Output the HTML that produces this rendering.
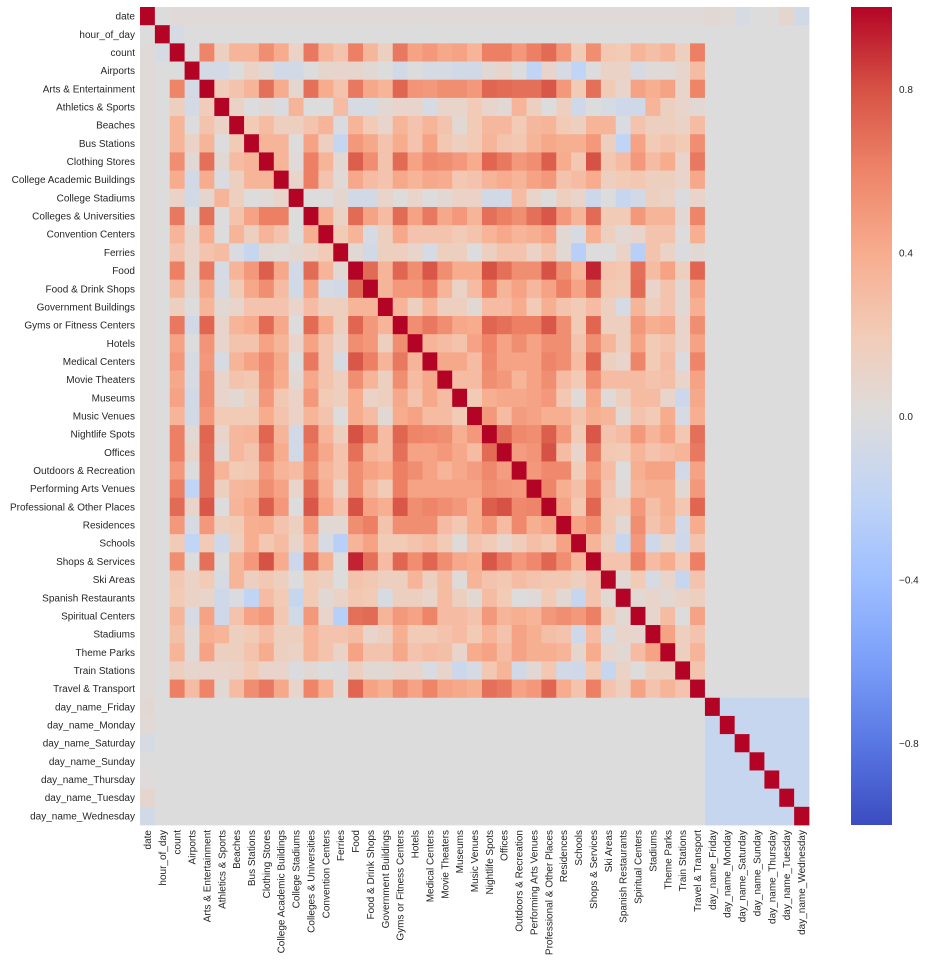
<!DOCTYPE html>
<html><head><meta charset="utf-8"><style>
html,body{margin:0;padding:0;background:#fff;width:925px;height:962px;overflow:hidden}
svg text{font-family:"Liberation Sans",sans-serif;font-size:10px;fill:#262626}
</style></head><body>
<svg id="chart" width="925" height="962" xmlns="http://www.w3.org/2000/svg"></svg>
<script>
const labels = ["date","hour_of_day","count","Airports","Arts & Entertainment","Athletics & Sports","Beaches","Bus Stations","Clothing Stores","College Academic Buildings","College Stadiums","Colleges & Universities","Convention Centers","Ferries","Food","Food & Drink Shops","Government Buildings","Gyms or Fitness Centers","Hotels","Medical Centers","Movie Theaters","Museums","Music Venues","Nightlife Spots","Offices","Outdoors & Recreation","Performing Arts Venues","Professional & Other Places","Residences","Schools","Shops & Services","Ski Areas","Spanish Restaurants","Spiritual Centers","Stadiums","Theme Parks","Train Stations","Travel & Transport","day_name_Friday","day_name_Monday","day_name_Saturday","day_name_Sunday","day_name_Thursday","day_name_Tuesday","day_name_Wednesday"];
// upper triangle (j>i) of block count..Travel & Transport
const catUpper = [
[0,0.6,0.15,0.35,0.35,0.55,0.4,0.12,0.65,0.35,0.25,0.62,0.33,0.15,0.65,0.45,0.5,0.42,0.45,0.35,0.62,0.62,0.5,0.62,0.7,0.5,0.2,0.55,0.22,0.2,0.35,0.28,0.35,0.15,0.62],
[-0.07,-0.07,0,0.12,0.05,-0.08,-0.08,0,0.08,0.1,0.08,0.05,0,-0.08,0,-0.05,-0.05,-0.08,-0.08,0.05,0.1,0,-0.2,0.1,-0.05,-0.2,0,0.12,0.12,-0.05,0.02,0.02,0.08,0.3],
[0.18,0.25,0.35,0.68,0.4,0.07,0.68,0.4,0.25,0.65,0.42,0.35,0.72,0.52,0.5,0.55,0.55,0.5,0.72,0.7,0.68,0.68,0.78,0.5,0.2,0.68,0.2,0.1,0.45,0.38,0.45,0.1,0.6],
[0.12,0,0.05,-0.03,0.35,0,0,0.3,-0.05,-0.05,0.05,0.1,0.1,-0.05,0.1,0.1,0.2,0.1,0.05,0.35,0.15,0,0.15,-0.1,0,-0.05,-0.1,-0.1,0.35,0.15,0.1,0.05],
[0.2,0.3,0.15,0.15,0.25,0.35,-0.03,0.35,0.2,0.1,0.35,0.25,0.35,0.25,0.05,0.2,0.32,0.32,0.2,0.32,0.35,0.2,0.15,0.35,0.35,-0.03,0.25,0.15,0.15,0.12,0.3],
[0.35,0.35,0,0.45,0.15,-0.15,0.5,0.42,0.25,0.4,0.25,0.45,0.22,0.15,0.2,0.35,0.25,0.22,0.35,0.42,0.38,0.38,0.5,0.15,-0.2,0.45,0.2,0.25,0.2,0.55],
[0.35,0.02,0.62,0.35,0.05,0.75,0.55,0.25,0.7,0.45,0.58,0.55,0.5,0.4,0.72,0.65,0.5,0.55,0.75,0.4,0.22,0.8,0.22,0.3,0.5,0.3,0.4,0.1,0.65],
[0.1,0.62,0.25,0.03,0.42,0.3,0.25,0.42,0.35,0.42,0.4,0.22,0.25,0.35,0.4,0.35,0.45,0.5,0.25,0.3,0.4,0.15,0.2,0.22,0.15,0.15,0.1,0.42],
[0,0,0.07,-0.08,-0.08,0.1,0,0.1,0,0.05,0.12,0.12,-0.08,-0.08,0.3,0.1,0,0.15,0.1,-0.12,0,-0.15,-0.08,0.15,0.12,-0.02,0.1],
[0.38,0.12,0.7,0.45,0.3,0.7,0.45,0.65,0.42,0.5,0.35,0.68,0.62,0.55,0.68,0.78,0.5,0.35,0.7,0.2,0.2,0.5,0.35,0.35,0.05,0.6],
[0.2,0.35,-0.05,0.15,0.42,0.25,0.25,0.25,0.2,0.25,0.35,0.42,0.35,0.38,0.45,0.05,-0.05,0.38,0.15,0.05,0.1,0.25,0.25,0,0.38],
[0.05,-0.08,0.15,0.15,0.1,-0.05,0.15,0.15,0,0.15,0.25,0.25,0.12,0.25,0.05,-0.25,0,0,0.12,-0.25,0.25,0.12,-0.02,0.05],
[0.7,0.35,0.72,0.55,0.78,0.55,0.4,0.4,0.8,0.68,0.55,0.55,0.8,0.55,0.35,0.92,0.25,0.22,0.68,0.3,0.45,0.15,0.72],
[0.35,0.5,0.5,0.62,0.35,0.12,0.3,0.62,0.35,0.45,0.32,0.45,0.62,0.45,0.68,0.22,0.2,0.7,0.1,0.25,0.05,0.45],
[0.35,0.15,0.35,0.15,0.15,0.05,0.3,0.3,0.4,0.2,0.38,0.25,0.2,0.3,0.15,-0.05,0.35,0.15,0.25,0.05,0.38],
[0.55,0.65,0.55,0.42,0.4,0.72,0.68,0.62,0.62,0.78,0.55,0.2,0.72,0.15,0.15,0.5,0.38,0.42,0.1,0.55],
[0.35,0.3,0.25,0.45,0.6,0.45,0.55,0.45,0.55,0.55,0.25,0.55,0.35,0.15,0.45,0.2,0.25,0.1,0.45],
[0.42,0.42,0.3,0.58,0.45,0.45,0.45,0.6,0.55,0.3,0.72,0.15,0.1,0.6,0.2,0.3,-0.03,0.6],
[0.3,0.3,0.55,0.5,0.35,0.45,0.55,0.3,0.2,0.55,0.3,0.3,0.3,0.25,0.28,0.1,0.45],
[0.2,0.38,0.42,0.42,0.45,0.5,0.22,0.02,0.42,0.02,0.15,0.3,0.3,0.1,-0.12,0.42],
[0.5,0.3,0.48,0.45,0.38,0.38,0.25,0.38,0.35,0.05,0.25,0.2,0.4,-0.05,0.38],
[0.7,0.58,0.55,0.75,0.5,0.2,0.78,0.25,0.3,0.5,0.35,0.45,0.22,0.68],
[0.48,0.52,0.8,0.3,0.1,0.65,0.22,0.2,0.35,0.25,0.3,0.35,0.65],
[0.5,0.58,0.58,0.18,0.5,0.3,0,0.38,0.45,0.45,-0.08,0.45],
[0.6,0.38,0.28,0.58,0.25,0.02,0.35,0.38,0.38,0.05,0.5],
[0.45,0.22,0.72,0.22,0.2,0.5,0.28,0.38,0.22,0.72],
[0.45,0.55,0.22,0.05,0.55,0.25,0.35,-0.08,0.4],
[0.35,0.15,-0.15,0.5,-0.1,0.08,-0.1,0.25],
[0.25,0.25,0.62,0.3,0.4,0.2,0.62],
[0.05,0.2,-0.05,0.1,-0.15,0.25],
[0.05,0.1,0.05,0.12,0.15],
[0.08,0.3,0,0.45],
[0.45,0.15,0.25],
[0.15,0.35],
[0.25]
];
const dateVsCats = 0.02;
const hourVsCount = -0.05;
const dateVsDays = [0.05,0.04,-0.05,0,0.01,0.07,-0.08];
const dayVsDay = -0.15;
const cbarTicks = [0.8,0.4,0.0,-0.4,-0.8];

const N = labels.length;
const X0 = 140, Y0 = 7, W = 669, H = 818;
const cw = W / N, ch = H / N;
const xPos = j => X0 + j * cw;
const yPos = i => Y0 + i * ch;

const M = [];
for (let i = 0; i < N; i++) { M.push(new Array(N).fill(0)); M[i][i] = 1; }
function setSym(i, j, v) { M[i][j] = v; M[j][i] = v; }
for (let j = 2; j < 38; j++) setSym(0, j, dateVsCats);
for (let k = 0; k < 7; k++) setSym(0, 38 + k, dateVsDays[k]);
setSym(1, 2, hourVsCount);
for (let a = 0; a < catUpper.length; a++) {
  for (let b = 0; b < catUpper[a].length; b++) setSym(2 + a, 3 + a + b, catUpper[a][b]);
}
for (let a = 38; a < N; a++) for (let b = a + 1; b < N; b++) setSym(a, b, dayVsDay);

const stops = [[59,76,192],[89,119,227],[123,159,249],[158,190,255],[192,212,245],[221,220,220],[242,203,183],[247,172,142],[238,132,104],[214,82,68],[180,4,38]];
function color(v) {
  let t = (Math.max(-1, Math.min(1, v)) + 1) / 2 * 10;
  let k = Math.min(9, Math.floor(t)), f = t - k;
  const a = stops[k], b = stops[k + 1];
  return `rgb(${a.map((c, i) => Math.round(c + (b[i] - c) * f)).join(',')})`;
}

const svg = document.getElementById('chart');
const NS = 'http://www.w3.org/2000/svg';
function el(tag, attrs, parent) {
  const e = document.createElementNS(NS, tag);
  for (const k in attrs) e.setAttribute(k, attrs[k]);
  (parent || svg).appendChild(e);
  return e;
}
const cells = el('g', {});


for (let i = 0; i < N; i++) {
  for (let j = 0; j < N; j++) {
    const r = el('rect', {x: xPos(j).toFixed(2), y: yPos(i).toFixed(2), width: (cw + 0.4).toFixed(2), height: (ch + 0.4).toFixed(2), fill: color(M[i][j])}, cells);
    
    
  }
}
for (let i = 0; i < N; i++) {
  const t = el('text', {x: X0 - 5, y: (yPos(i) + ch / 2 + 3.5).toFixed(1), 'text-anchor': 'end'});
  t.textContent = labels[i];
  
  
}
for (let j = 0; j < N; j++) {
  const cx = xPos(j) + cw / 2 + 3.5, cy = Y0 + H + 5;
  const t = el('text', {x: cx.toFixed(1), y: cy, 'text-anchor': 'end', transform: `rotate(-90 ${cx.toFixed(1)} ${cy})`});
  t.textContent = labels[j];
  
  
}
const CBX = 851, CBW = 41, CBY = 7, CBH = 818;
const defs = el('defs', {});
const grad = el('linearGradient', {id: 'cw', x1: 0, y1: 1, x2: 0, y2: 0}, defs);
for (let k = 0; k <= 20; k++) {
  el('stop', {offset: (k / 20).toFixed(3), 'stop-color': color(-1 + k / 10)}, grad);
}
const cb = el('rect', {x: CBX, y: CBY, width: CBW, height: CBH, fill: 'url(#cw)'});


const cbY = v => CBY + (1 - (v + 1) / 2) * CBH;
for (const v of cbarTicks) {
  const t = el('text', {x: CBX + CBW + 7, y: (cbY(v) + 4).toFixed(1)});
  t.textContent = v < 0 ? '\u2212' + Math.abs(v).toFixed(1) : v.toFixed(1);
  
  
}
</script>
</body></html>
